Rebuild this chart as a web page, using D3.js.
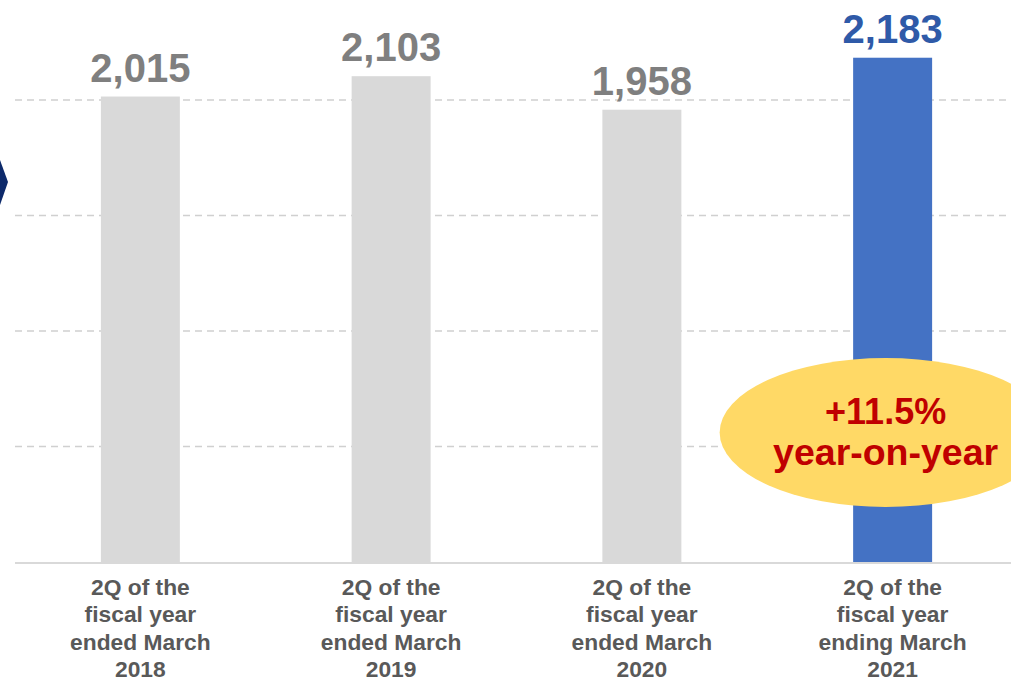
<!DOCTYPE html>
<html>
<head>
<meta charset="utf-8">
<script src="https://cdn.jsdelivr.net/npm/d3@7"></script>
<style>
  html, body { margin: 0; padding: 0; background: #ffffff; }
  svg { display: block; }
  text { font-family: "Liberation Sans", Arial, Helvetica, sans-serif; font-weight: bold; }
</style>
</head>
<body>
<svg id="chart" width="1011" height="678"></svg>
<script>
// Quarterly figures, second quarter of each fiscal year
const periods = ["FY2018 2Q", "FY2019 2Q", "FY2020 2Q", "FY2021 2Q"];
const periodLabels = [
  ["2Q of the", "fiscal year", "ended March", "2018"],
  ["2Q of the", "fiscal year", "ended March", "2019"],
  ["2Q of the", "fiscal year", "ended March", "2020"],
  ["2Q of the", "fiscal year", "ending March", "2021"]
];
const values = [2015, 2103, 1958, 2183];
const gridTicks = [500, 1000, 1500, 2000];
const growthText = ["+11.5%", "year-on-year"];

const W = 1011, H = 678;
const svg = d3.select("#chart");

const x = d3.scaleBand()
  .domain(periods)
  .range([15, 1018])
  .paddingInner(0.685)
  .paddingOuter(0.3425);

const y = d3.scaleLinear()
  .domain([0, 2000])
  .range([562, 100]);

const fmt = d3.format(",");
const isCurrent = (d, i) => i === values.length - 1;

// dashed horizontal gridlines
svg.append("g")
  .selectAll("line")
  .data(gridTicks)
  .join("line")
  .attr("x1", 15)
  .attr("x2", 1018)
  .attr("y1", d => y(d))
  .attr("y2", d => y(d))
  .attr("stroke", "#d0d0d0")
  .attr("stroke-width", 1.5)
  .attr("stroke-dasharray", "7,5");

// bars
svg.append("g")
  .selectAll("rect")
  .data(values)
  .join("rect")
  .attr("x", (d, i) => x(periods[i]))
  .attr("width", x.bandwidth())
  .attr("y", d => y(d))
  .attr("height", d => y(0) - y(d))
  .attr("fill", (d, i) => isCurrent(d, i) ? "#4472c4" : "#d9d9d9");

// baseline
svg.append("line")
  .attr("x1", 15)
  .attr("x2", 1018)
  .attr("y1", y(0) + 1)
  .attr("y2", y(0) + 1)
  .attr("stroke", "#d9d9d9")
  .attr("stroke-width", 2);

// value labels above bars
svg.append("g")
  .selectAll("text")
  .data(values)
  .join("text")
  .attr("x", (d, i) => x(periods[i]) + x.bandwidth() / 2)
  .attr("y", d => y(d) - 15)
  .attr("text-anchor", "middle")
  .attr("font-size", 40)
  .attr("fill", (d, i) => isCurrent(d, i) ? "#2f5aa8" : "#7f7f7f")
  .text(d => fmt(d));

// category labels below the baseline
const cat = svg.append("g")
  .selectAll("text")
  .data(periodLabels)
  .join("text")
  .attr("x", (d, i) => x(periods[i]) + x.bandwidth() / 2)
  .attr("y", 595)
  .attr("text-anchor", "middle")
  .attr("font-size", 22.8)
  .attr("fill", "#595959");

cat.selectAll("tspan")
  .data(d => d)
  .join("tspan")
  .attr("x", function () { return d3.select(this.parentNode).attr("x"); })
  .attr("dy", (d, j) => j === 0 ? 0 : 27.4)
  .text(d => d);

// growth callout over the latest bar
const cx = x(periods[3]) + x.bandwidth() / 2 - 7;
svg.append("ellipse")
  .attr("cx", cx)
  .attr("cy", 432.5)
  .attr("rx", 166)
  .attr("ry", 74.5)
  .attr("fill", "#ffd966");

svg.append("g")
  .selectAll("text")
  .data(growthText)
  .join("text")
  .attr("x", cx)
  .attr("y", (d, i) => i === 0 ? 424 : 465)
  .attr("text-anchor", "middle")
  .attr("font-size", (d, i) => i === 0 ? 36 : 37.5)
  .attr("fill", "#c00000")
  .text(d => d);

// arrow marker at the left edge
svg.append("path")
  .attr("d", "M0,160 L8,182 L0,205 Z")
  .attr("fill", "#0d2a6b");
</script>
</body>
</html>
